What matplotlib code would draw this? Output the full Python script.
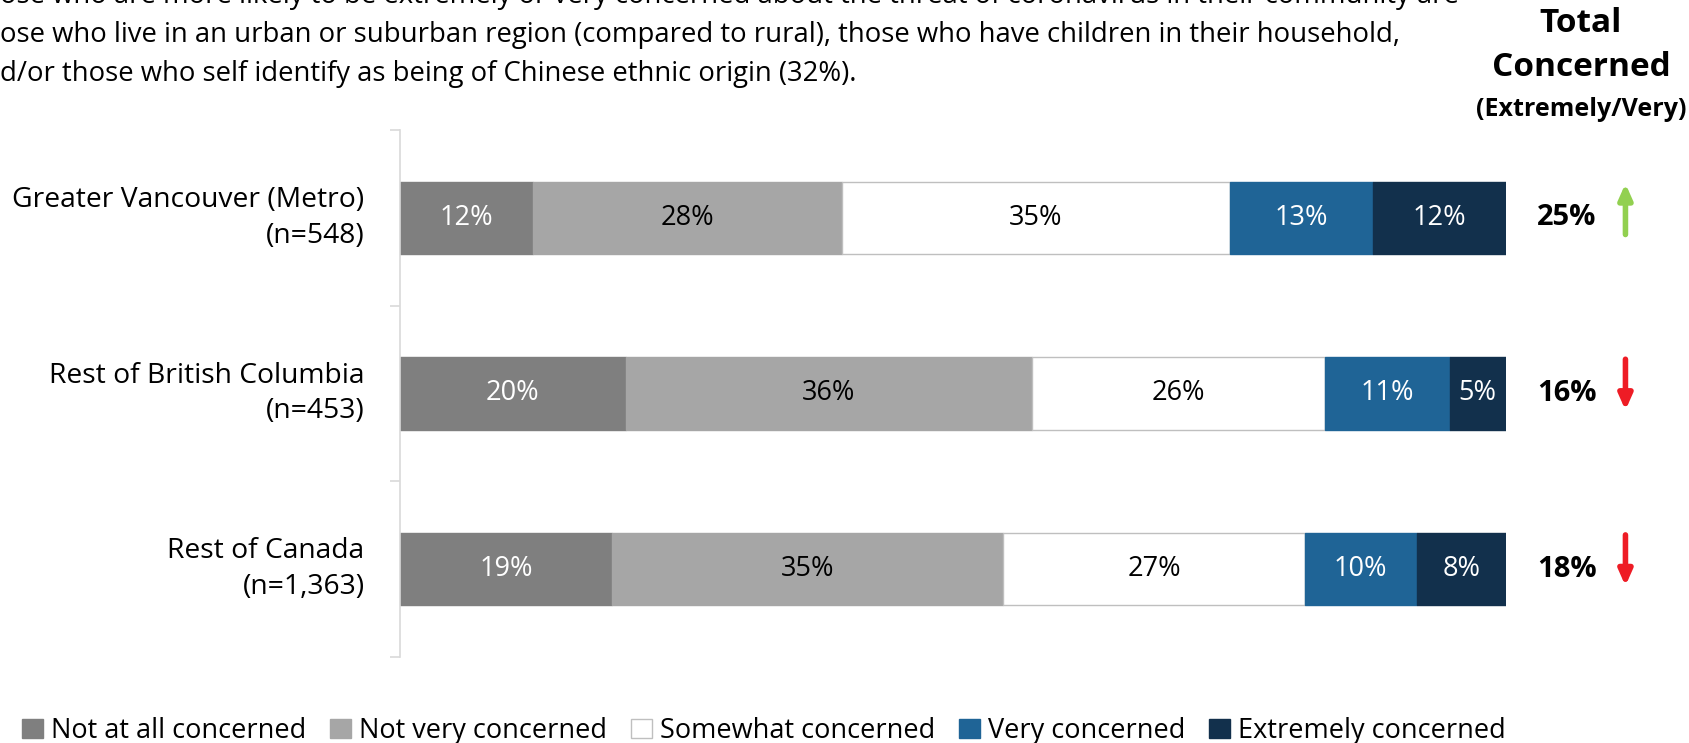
import numpy as np
import matplotlib.pyplot as plt

plt.rcParams['font.family'] = ['Open Sans', 'DejaVu Sans']

# data
regions = ["Greater Vancouver (Metro)\n(n=548)",
           "Rest of British Columbia\n(n=453)",
           "Rest of Canada\n(n=1,363)"]
levels = ["Not at all concerned", "Not very concerned", "Somewhat concerned",
          "Very concerned", "Extremely concerned"]
not_at_all = [12, 20, 19]
not_very = [28, 36, 35]
somewhat = [35, 26, 27]
very = [13, 11, 10]
extremely = [12, 5, 8]
total_concerned = [25, 16, 18]
trend = ["up", "down", "down"]

colors = ["#7f7f7f", "#a6a6a6", "#ffffff", "#1f6496", "#12304c"]
txt_colors = ["white", "black", "black", "white", "white"]

series = np.array([not_at_all, not_very, somewhat, very, extremely], dtype=float)
# rounded shares -> stretch every row to the full width, as in the slide
shares = series / series.sum(axis=0) * 100

fig = plt.figure(figsize=(16.89, 7.43), dpi=100)
ax = fig.add_axes([400 / 1689, 1 - 657 / 743, 1106 / 1689, 527 / 743])

y = np.arange(len(regions))
left = np.zeros(len(regions))
for vals, shr, col, tcol, lab in zip(series, shares, colors, txt_colors, levels):
    ax.barh(y, shr, left=left, height=0.41, color=col,
            edgecolor="#bfbfbf" if col == "#ffffff" else col, linewidth=1,
            label=lab)
    for yi, l, s, v in zip(y, left, shr, vals):
        ax.text(l + s / 2, yi, f"{int(v)}%", ha="center", va="center",
                color=tcol, fontsize=19.5)
    left += shr

ax.set_xlim(0, 100)
ax.set_ylim(2.5, -0.5)
ax.set_xticks([])
ax.set_yticks([-0.5, 0.5, 1.5, 2.5])
ax.set_yticklabels([])
ax.tick_params(axis="y", length=7, color="#d9d9d9", width=1.2)
for s in ["top", "right", "bottom"]:
    ax.spines[s].set_visible(False)
ax.spines["left"].set_color("#d9d9d9")
ax.spines["left"].set_linewidth(1.2)

for yi, lab in zip(y, regions):
    ax.text(-3.2, yi, lab, ha="right", va="center", fontsize=20.3,
            linespacing=1.35)

# total concerned column
for yi, v, t in zip(y, total_concerned, trend):
    ax.text(105.5, yi, f"{v}%", ha="center", va="center",
            fontsize=21, fontweight="bold")
    xa = 110.8
    yc = yi - 0.05
    if t == "up":
        start, end, c = yc + 0.145, yc - 0.145, "#92d050"
    else:
        start, end, c = yc - 0.145, yc + 0.145, "#ee1c25"
    ax.annotate("", xy=(xa, end), xytext=(xa, start),
                arrowprops=dict(arrowstyle="-|>,head_width=0.4,head_length=0.9",
                                color=c, lw=4, shrinkA=0, shrinkB=0),
                annotation_clip=False)

fig.text(1581 / 1689, 1 - 24 / 743, "Total", ha="center", va="center",
         fontsize=24, fontweight="bold")
fig.text(1581 / 1689, 1 - 67 / 743, "Concerned", ha="center", va="center",
         fontsize=24, fontweight="bold")
fig.text(1581 / 1689, 1 - 109 / 743, "(Extremely/Very)", ha="center", va="center",
         fontsize=18, fontweight="bold")

# intro text, cut off at the top and left edge as in the slide
intro = ["ose who are more likely to be extremely or very concerned about the threat of coronavirus in their community are",
         "ose who live in an urban or suburban region (compared to rural), those who have children in their household,",
         "d/or those who self identify as being of Chinese ethnic origin (32%)."]
for i, line in enumerate(intro):
    fig.text(0, 1 - (-4 + 39 * i) / 743, line, ha="left", va="center",
             fontsize=19.8)

handles, labels = ax.get_legend_handles_labels()
fig.legend(handles, labels, loc="center", ncol=5,
           bbox_to_anchor=(764 / 1689, 1 - 731 / 743), frameon=False,
           fontsize=19.5, handlelength=0.75, handleheight=0.75,
           handletextpad=0.3, columnspacing=0.9, borderaxespad=0)

fig.savefig("out.png", dpi=100)
